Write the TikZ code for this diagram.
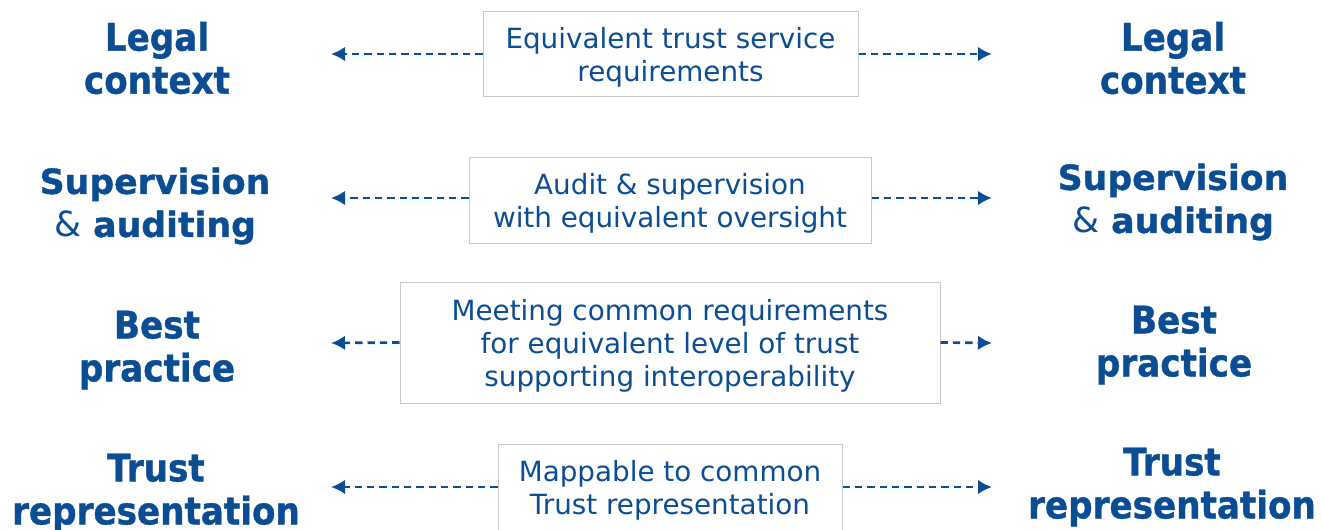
\documentclass[tikz,border=0pt]{standalone}
\usepackage{fontspec}
\setmainfont{DejaVu Sans}
\newfontfamily\lblfont{DejaVu Sans Bold}[FakeStretch=0.9,FakeBold=1]
\newfontfamily\lblwide{DejaVu Sans Bold}[FakeBold=1]
\newfontfamily\ampfont{DejaVu Sans}
\usetikzlibrary{arrows.meta}
\definecolor{eublue}{HTML}{0B4D93}
\definecolor{boxgray}{HTML}{C8C8C8}
\newcommand{\firststrut}{\rule{0pt}{20.5pt}}
\tikzset{
  lbl/.style={text=eublue, align=center, inner sep=0pt, font=\lblfont\fontsize{28.5}{32.25}\selectfont},
  lblsm/.style={lbl, font=\lblwide\fontsize{26}{32.25}\selectfont},
  reqbox/.style={draw=boxgray, line width=0.75pt, text=eublue, align=center, inner sep=0pt, font=\fontsize{20.85}{24.75}\selectfont},
  link/.style={draw=eublue, line width=2pt, dash pattern=on 5.5pt off 3.75pt, -{Latex[length=10.5pt,width=11pt]}},
}
\begin{document}
\begin{tikzpicture}[x=0.75pt,y=-0.75pt]
\useasboundingbox (0,0) rectangle (1322,529);
% left labels
\node[lbl] (L1) at (157,58) {Legal\\context};
\node[lblsm] (L2) at (155,206) {Supervision\\{\ampfont\&} auditing};
\node[lbl] (L3) at (157,350) {Best\\practice};
\node[lbl] (L4) at (156,493) {Trust\\representation};
% right labels
\node[lbl] (R1) at (1173,58) {Legal\\context};
\node[lblsm] (R2) at (1173,202) {Supervision\\{\ampfont\&} auditing};
\node[lbl] (R3) at (1174,345) {Best\\practice};
\node[lbl] (R4) at (1172,487) {Trust\\representation};
% centre boxes
\node[reqbox, minimum width=281.25pt, minimum height=63.75pt] (B1) at (670.5,54) {\firststrut Equivalent trust service\\requirements};
\node[reqbox, minimum width=301.5pt, minimum height=64.5pt] (B2) at (670,200) {\firststrut Audit \& supervision\\with equivalent oversight};
\node[reqbox, minimum width=405pt, minimum height=90.75pt] (B3) at (670,342.5) {\firststrut Meeting common requirements\\for equivalent level of trust\\supporting interoperability};
\node[reqbox, minimum width=258pt, minimum height=65.25pt] (B4) at (670,487.5) {\firststrut Mappable to common\\Trust representation};
% arrow ends
\coordinate (a1l) at (331,54);  \coordinate (a1r) at (992,54);
\coordinate (a2l) at (331,198); \coordinate (a2r) at (992,198);
\coordinate (a3l) at (331,343); \coordinate (a3r) at (992,343);
\coordinate (a4l) at (331,487); \coordinate (a4r) at (992,487);
\draw[link] (B1.west) -- (a1l);
\draw[link] (B1.east) -- (a1r);
\draw[link] (B2.west |- a2l) -- (a2l);
\draw[link] (B2.east |- a2r) -- (a2r);
\draw[link] (B3.west) -- (a3l);
\draw[link] (B3.east) -- (a3r);
\draw[link] (B4.west |- a4l) -- (a4l);
\draw[link] (B4.east |- a4r) -- (a4r);
\end{tikzpicture}
\end{document}
